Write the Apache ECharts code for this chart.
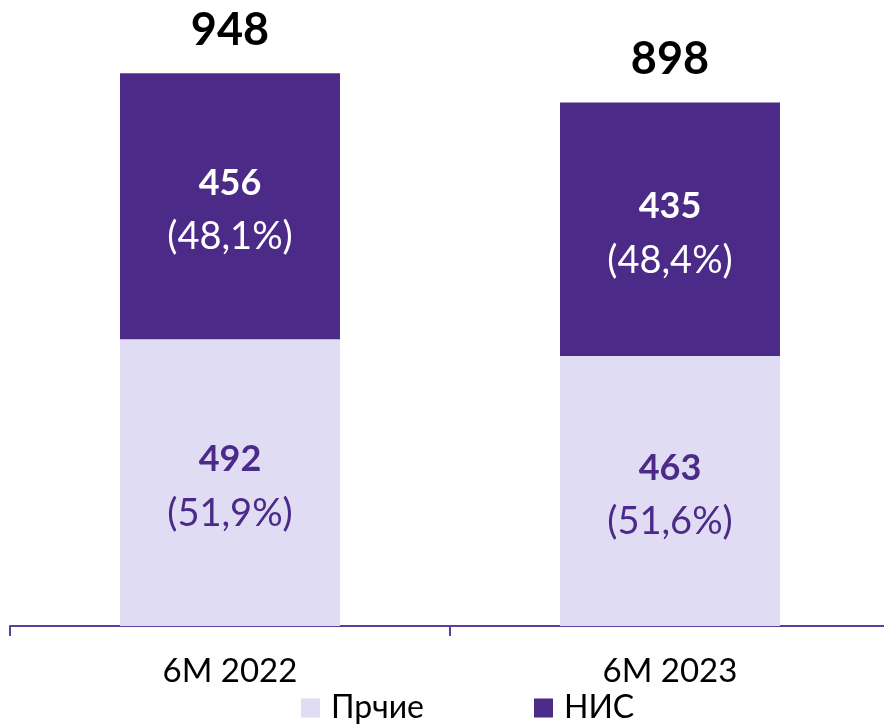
<!DOCTYPE html>
<html>
<head>
<meta charset="utf-8">
<script src="https://cdn.jsdelivr.net/npm/echarts@6/dist/echarts.min.js"></script>
<style>
  html, body { margin: 0; padding: 0; background: #fff; }
  #chart { width: 884px; height: 727px; }
</style>
</head>
<body>
<div id="chart"></div>
<script>
const categories = ['6M 2022', '6M 2023']
const otherValues = [492, 463]
const nisValues = [456, 435]
const otherShares = ['51,9%', '51,6%']
const nisShares = ['48,1%', '48,4%']
const seriesNames = ['Прчие', 'НИС']

const dark = '#4B2A88'
const light = '#E0DCF4'
const font = 'Lato, "Open Sans", sans-serif'

const chart = echarts.init(document.getElementById('chart'))

function segLabel(color, shares) {
  return {
    show: true,
    position: 'inside',
    offset: [0, 4],
    formatter: (p) => `{v|${p.value}}\n{s|(${shares[p.dataIndex]})}`,
    rich: {
      v: { fontSize: 36, fontWeight: 'bold', color, lineHeight: 54, fontFamily: font },
      s: { fontSize: 38, color, lineHeight: 54, fontFamily: font }
    }
  }
}

chart.setOption({
  backgroundColor: '#fff',
  animation: false,
  textStyle: { fontFamily: font },
  grid: { top: 43, left: 10, width: 880, height: 583, outerBoundsMode: 'none' },
  legend: {
    bottom: -2,
    left: 296,
    itemWidth: 19,
    itemHeight: 19,
    itemGap: 110,
    icon: 'rect',
    textStyle: { fontSize: 32, color: '#000', fontFamily: font, padding: [0, 0, 0, 6] },
    data: seriesNames
  },
  xAxis: {
    type: 'category',
    data: categories,
    axisLine: { lineStyle: { color: '#5B3F9C', width: 2 } },
    axisTick: { show: true, length: 10, lineStyle: { color: '#5B3F9C', width: 2 } },
    axisLabel: { fontSize: 33, color: '#000', margin: 29, fontFamily: font }
  },
  yAxis: {
    type: 'value',
    min: 0,
    max: 1000,
    show: false,
    splitLine: { show: false }
  },
  series: [
    {
      name: seriesNames[0],
      type: 'bar',
      stack: 'total',
      barWidth: '50%',
      data: otherValues,
      itemStyle: { color: light },
      label: segLabel(dark, otherShares)
    },
    {
      name: seriesNames[1],
      type: 'bar',
      stack: 'total',
      barWidth: '50%',
      data: nisValues,
      itemStyle: { color: dark },
      label: segLabel('#fff', nisShares)
    },
    {
      // totals above each bar
      name: 'total',
      type: 'bar',
      stack: 'total',
      barWidth: '50%',
      data: nisValues.map(() => 0),
      itemStyle: { color: 'transparent' },
      label: {
        show: true,
        position: 'top',
        distance: 20,
        formatter: (p) => `${otherValues[p.dataIndex] + nisValues[p.dataIndex]}`,
        fontSize: 45,
        fontWeight: 'bold',
        color: '#000',
        fontFamily: font
      }
    }
  ]
})
</script>
</body>
</html>
